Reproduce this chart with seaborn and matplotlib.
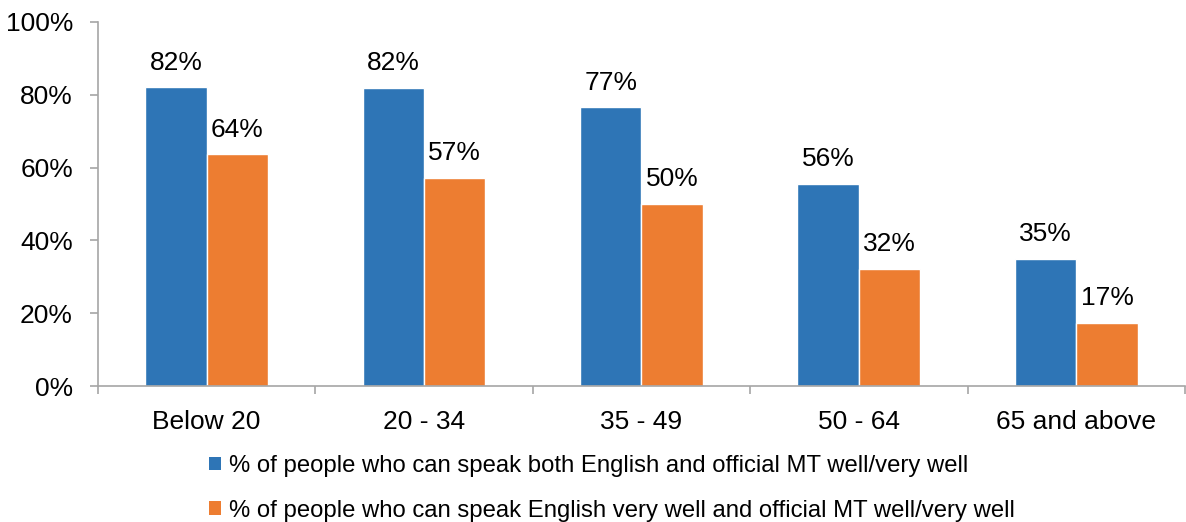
import pandas as pd
import matplotlib.pyplot as plt
import seaborn as sns
from matplotlib.patches import Patch
from matplotlib.ticker import FixedLocator, FuncFormatter

age_groups = ['Below 20', '20 - 34', '35 - 49', '50 - 64', '65 and above']
both_well = [82.1, 81.9, 76.6, 55.6, 34.9]
eng_very_well = [63.6, 57.2, 50.1, 32.2, 17.4]
series_names = ['% of people who can speak both English and official MT well/very well',
                '% of people who can speak English very well and official MT well/very well']
colours = ['#2E75B6', '#ED7D31']

sns.set_style('white')
plt.rcParams['font.family'] = ['Liberation Sans', 'DejaVu Sans']

# long form table for seaborn
df = pd.DataFrame({
    'age': age_groups * 2,
    'pct': both_well + eng_very_well,
    'series': [series_names[0]] * 5 + [series_names[1]] * 5,
})

fig = plt.figure(figsize=(11.86, 5.22), dpi=100)
ax = fig.add_axes([0.0826, 0.2605, 0.9165, 0.6975])

sns.barplot(data=df, x='age', y='pct', hue='series', palette=colours,
            width=0.565, gap=0, saturation=1, ax=ax, legend=False, errorbar=None)

for c in ax.containers:
    ax.bar_label(c, fmt='%.0f%%', padding=9, fontsize=19, color='#000000')

ax.set_ylim(0, 100)
ax.set_xlim(-0.5, 4.5)
ax.set_yticks(range(0, 101, 20))
ax.yaxis.set_major_formatter(FuncFormatter(lambda v, p: f'{v:.0f}%'))
ax.tick_params(axis='y', labelsize=19, length=6, width=1.2, color='#A6A6A6', left=True, pad=12, labelcolor='#000000')
ax.tick_params(axis='x', which='major', labelsize=19, length=0, pad=17, labelcolor='#000000')
ax.xaxis.set_minor_locator(FixedLocator([-0.5, 0.5, 1.5, 2.5, 3.5, 4.5]))
ax.tick_params(axis='x', which='minor', length=6, width=1.2, color='#A6A6A6', bottom=True)
ax.set_xlabel('')
ax.set_ylabel('')

for side in ['top', 'right']:
    ax.spines[side].set_visible(False)
for side in ['left', 'bottom']:
    ax.spines[side].set_color('#A6A6A6')
    ax.spines[side].set_linewidth(1.2)

handles = [Patch(facecolor=col, edgecolor='none') for col in colours]
fig.legend(handles, series_names, loc='upper left', bbox_to_anchor=(209 / 1186, 1 - 455 / 522),
           frameon=False, fontsize=17.2, handlelength=0.5, handleheight=0.5, labelcolor='#000000',
           handletextpad=0.35, labelspacing=0.95, borderaxespad=0, borderpad=0)

fig.savefig('out.png', dpi=100)
